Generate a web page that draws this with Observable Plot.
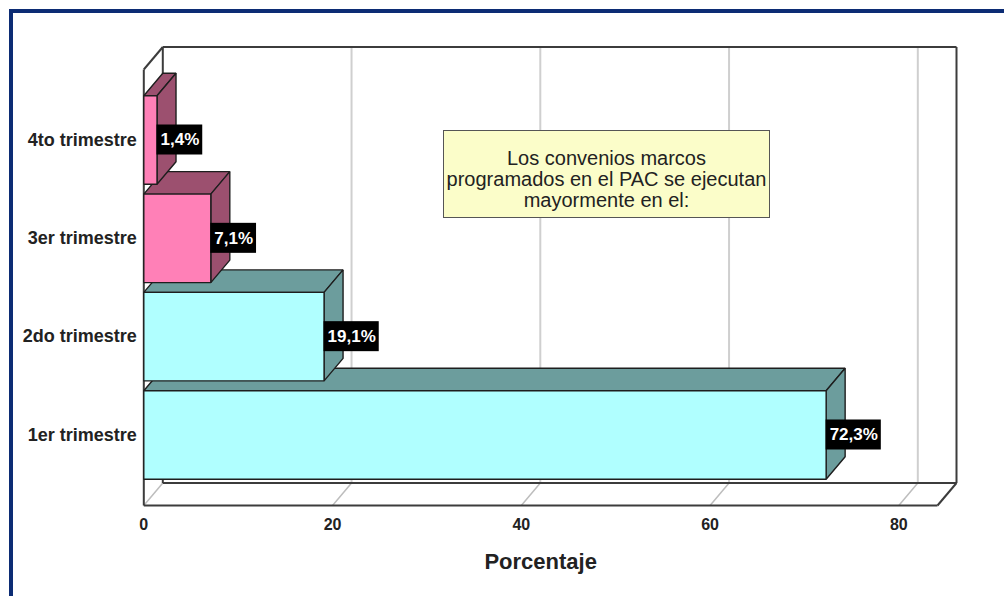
<!DOCTYPE html>
<html>
<head>
<meta charset="utf-8">
<script src="https://cdn.jsdelivr.net/npm/d3@7"></script>
<script src="https://cdn.jsdelivr.net/npm/@observablehq/plot@0.6"></script>
<style>
  html, body { margin: 0; padding: 0; background: #fff; width: 1004px; height: 596px; overflow: hidden; position: relative; }
  #frame { position: absolute; left: 9px; top: 9px; width: 1200px; height: 800px; border: 4px solid #0c2c74; box-sizing: border-box; pointer-events: none; }
  #chart { position: absolute; left: 0; top: 0; }
  #note { position: absolute; left: 443px; top: 130px; width: 327px; height: 88px; box-sizing: border-box;
          background: #fbfdc9; border: 1.5px solid #555; font-family: "Liberation Sans", Arial, sans-serif;
          font-size: 20px; line-height: 21px; color: #222; text-align: center; padding-top: 17px; white-space: nowrap; }
</style>
</head>
<body>
<div id="chart"></div>
<div id="note"></div>
<div id="frame"></div>
<script>
// ---- data ----
const categories = ["1er trimestre", "2do trimestre", "3er trimestre", "4to trimestre"];
const values = [72.3, 19.1, 7.1, 1.4];
const valueLabels = ["72,3%", "19,1%", "7,1%", "1,4%"];
const colorGroup = ["cyan", "cyan", "pink", "pink"];
const xTicks = [0, 20, 40, 60, 80];
const xTitle = "Porcentaje";
const noteLines = ["Los convenios marcos", "programados en el PAC se ejecutan", "mayormente en el:"];

// ---- styling / geometry ----
const W = 1004, H = 596;
const xMax = 84.1;
const yLo = -0.717, yHi = 3.717;
const mLeft = 143.3, mRight = 67, mTop = 69, mBottom = 91;
const kx = (W - mLeft - mRight) / xMax;        // px per x unit
const ky = (H - mTop - mBottom) / (yHi - yLo); // px per y unit
const DX = 19 / kx, DY = 22.5 / ky;            // 3D depth in data units
const HALF = 0.45;
const palette = {
  cyan: {front: "#b0ffff", side: "#6c9d9d"},
  pink: {front: "#ff80b7", side: "#9c506f"}
};

// polygons for bars
const polys = [];
values.forEach((v, i) => {
  const c = palette[colorGroup[i]];
  const add = (id, pts, fill) => pts.forEach(([x, y]) => polys.push({id, x, y, fill}));
  add(`top${i}`, [[0, i + HALF], [v, i + HALF], [v + DX, i + HALF + DY], [DX, i + HALF + DY]], c.side);
  add(`side${i}`, [[v, i - HALF], [v + DX, i - HALF + DY], [v + DX, i + HALF + DY], [v, i + HALF]], c.side);
  add(`front${i}`, [[0, i - HALF], [v, i - HALF], [v, i + HALF], [0, i + HALF]], c.front);
});

// frame edges of the 3D box
const frameEdges = [
  {x1: DX, y1: yHi + DY, x2: xMax + DX, y2: yHi + DY},
  {x1: xMax + DX, y1: yHi + DY, x2: xMax + DX, y2: yLo + DY},
  {x1: DX, y1: yHi + DY, x2: DX, y2: yLo + DY},
  {x1: DX, y1: yLo + DY, x2: xMax + DX, y2: yLo + DY},
  {x1: 0, y1: yLo, x2: xMax, y2: yLo},
  {x1: xMax, y1: yLo, x2: xMax + DX, y2: yLo + DY},
  {x1: 0, y1: yHi, x2: 0, y2: yLo},
  {x1: 0, y1: yHi, x2: DX, y2: yHi + DY}
];

// label box widths (px) estimated from Arial bold 17px metrics
const charW = ch => ch === "," ? 4.73 : ch === "%" ? 15.1 : 9.45;
const labelData = values.map((v, i) => {
  const tw = [...valueLabels[i]].reduce((s, ch) => s + charW(ch), 0);
  return {i, v, text: valueLabels[i], w: (tw + 7) / kx};
});

const font = '"Liberation Sans", Arial, sans-serif';

const plot = Plot.plot({
  width: W, height: H,
  marginLeft: mLeft, marginRight: mRight, marginTop: mTop, marginBottom: mBottom,
  x: {domain: [0, xMax], axis: null},
  y: {domain: [yLo, yHi], axis: null},
  color: {type: "identity"},
  style: {fontFamily: font, background: "transparent", overflow: "visible"},
  marks: [
    // back-wall grid lines
    Plot.link(xTicks.filter(t => t > 0), {x1: t => t + DX, x2: t => t + DX, y1: yLo + DY, y2: yHi + DY, stroke: "#cfcfcf", strokeWidth: 2}),
    // floor grid diagonals
    Plot.link(xTicks, {x1: t => t, x2: t => t + DX, y1: yLo, y2: yLo + DY, stroke: "#bdbdbd", strokeWidth: 1.5}),
    // box frame
    Plot.link(frameEdges, {x1: "x1", y1: "y1", x2: "x2", y2: "y2", stroke: "#3c3c3c", strokeWidth: 2}),
    // bars (3D)
    Plot.line(polys, {x: "x", y: "y", z: "id", fill: "fill", stroke: "#1e1e1e", strokeWidth: 1.4, curve: "linear-closed", strokeLinejoin: "miter"}),
    // value label boxes
    Plot.rect(labelData, {x1: "v", x2: d => d.v + d.w, y1: d => d.i - 15 / ky, y2: d => d.i + 15 / ky, fill: "#000"}),
    Plot.text(labelData, {x: "v", y: "i", text: "text", dx: 3.5, textAnchor: "start", fill: "#fff", fontWeight: "bold", fontSize: 17}),
    // category labels
    Plot.text(categories, {x: 0, y: (d, i) => i, text: d => d, dx: -7, textAnchor: "end", fill: "#222", fontWeight: "bold", fontSize: 18}),
    // x tick labels
    Plot.text(xTicks, {x: d => d, y: yLo, text: d => String(d), dy: 19, fill: "#222", fontWeight: "bold", fontSize: 16}),
    // x axis title
    Plot.text([xTitle], {frameAnchor: "bottom", text: d => d, dy: 63, fill: "#222", fontWeight: "bold", fontSize: 22})
  ]
});
document.getElementById("chart").appendChild(plot);
document.getElementById("note").innerHTML = noteLines.join("<br>");
</script>
</body>
</html>
